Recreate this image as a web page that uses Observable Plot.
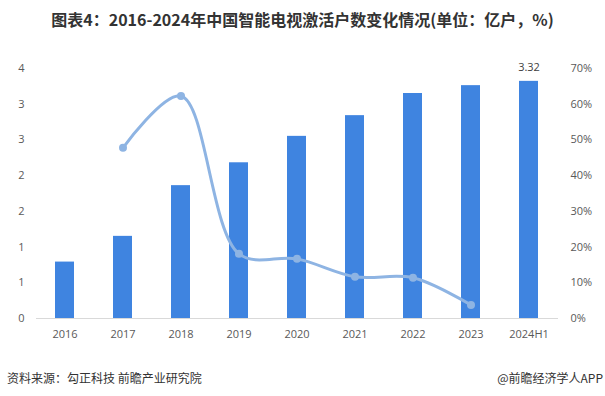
<!DOCTYPE html>
<html><head><meta charset="utf-8">
<script src="https://cdn.jsdelivr.net/npm/d3@7"></script>
<script src="https://cdn.jsdelivr.net/npm/@observablehq/plot@0.6"></script>
<style>
body{margin:0;background:#fff;width:605px;height:396px;overflow:hidden;font-family:"Noto Sans CJK SC",sans-serif;}
#title{height:38px;line-height:38px;text-align:center;font-weight:bold;font-size:16px;color:#333;white-space:nowrap;}
#chart{height:322px;}
#foot{position:relative;height:36px;font-size:12px;color:#333;}
#foot .l{position:absolute;left:7px;top:9px;}
#foot .r{position:absolute;right:2px;top:9px;}
</style></head><body>
<div id="title">图表4：2016-2024年中国智能电视激活户数变化情况(单位：亿户，%)</div>
<div id="chart"></div>
<div id="foot"><span class="l">资料来源：勾正科技 前瞻产业研究院</span><span class="r">@前瞻经济学人APP</span></div>
<script>
const years = ["2016","2017","2018","2019","2020","2021","2022","2023","2024H1"];
const users = [0.79,1.15,1.86,2.18,2.55,2.84,3.15,3.26,3.32];
const growthYears = ["2017","2018","2019","2020","2021","2022","2023"];
const growth = [47.8,62.3,18.1,16.7,11.7,11.4,3.8];
const leftTicks = [0,0.5,1,1.5,2,2.5,3,3.5];
const leftLabels = ["0","1","1","2","2","3","3","4"];
const rightTicks = [0,10,20,30,40,50,60,70];
const rightLabels = ["0%","10%","20%","30%","40%","50%","60%","70%"];
const labelYear = ["2024H1"];

const pctToY = 3.5/70;
const bars = years.map((y,i)=>({year:y, value:users[i]}));
const line = growthYears.map((y,i)=>({year:y, pct:growth[i]}));
const leftMap = new Map(leftTicks.map((t,i)=>[t,leftLabels[i]]));
const rightMap = new Map(rightTicks.map((t,i)=>[t*pctToY,rightLabels[i]]));

const font = "'Open Sans', sans-serif";
const plot = Plot.plot({
  width:605, height:322,
  marginTop:30, marginBottom:42, marginLeft:36, marginRight:47,
  style:{fontFamily:font, fontSize:"11px", color:"#595959", background:"#fff"},
  x:{type:"band", domain:years, paddingInner:0.67, paddingOuter:0.335, axis:null},
  y:{domain:[0,3.5], axis:null},
  marks:[
    Plot.axisX({tickSize:0, tickPadding:12, fill:"#595959", fontSize:11, label:null}),
    Plot.axisY(leftTicks, {anchor:"left", tickSize:0, tickPadding:12, tickFormat:d=>leftMap.get(d), fill:"#595959", fontSize:11, label:null}),
    Plot.axisY(rightTicks.map(t=>t*pctToY), {anchor:"right", tickSize:0, tickPadding:12, tickFormat:d=>rightMap.get(d), fill:"#595959", fontSize:11, label:null}),
    Plot.ruleY([0], {stroke:"#d9d9d9", strokeWidth:1}),
    Plot.barY(bars, {x:"year", y:"value", fill:"#3f84e0"}),
    Plot.text(bars.filter(d=>labelYear.includes(d.year)), {x:"year", y:"value", text:d=>d.value.toFixed(2), dy:-14, fill:"#404040", fontSize:11}),
    Plot.line(line, {x:"year", y:d=>d.pct*pctToY, curve:"catmull-rom", stroke:"#8eb4e3", strokeWidth:3}),
    Plot.dot(line, {x:"year", y:d=>d.pct*pctToY, r:4, fill:"#8eb4e3"})
  ]
});
document.getElementById("chart").appendChild(plot);
</script>
</body></html>
